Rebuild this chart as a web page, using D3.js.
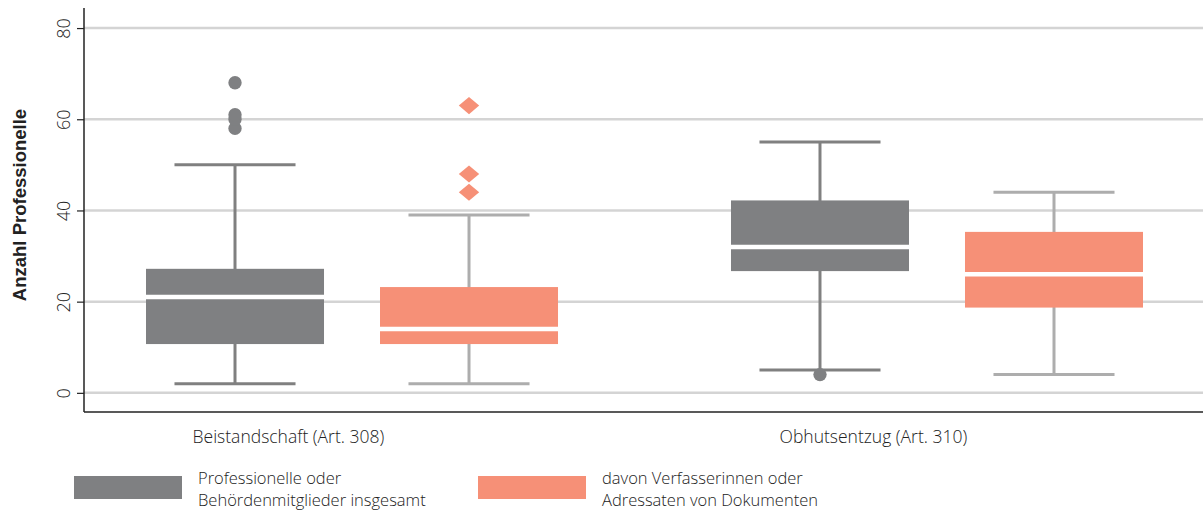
<!DOCTYPE html>
<html>
<head>
<meta charset="utf-8">
<script src="https://cdn.jsdelivr.net/npm/d3@7"></script>
<style>
  body { margin: 0; background: #fff; }
  svg text { font-family: "Open Sans", "Liberation Sans", sans-serif; fill: #222; }
</style>
</head>
<body>
<div id="holder"></div>
<script>
const categories = ["Beistandschaft (Art. 308)", "Obhutsentzug (Art. 310)"];
const seriesNames = ["Professionelle oder\nBehördenmitglieder insgesamt", "davon Verfasserinnen oder\nAdressaten von Dokumenten"];
// [lowWhisker, q1, median, q3, highWhisker] per category
const professionelle = [[2, 10.7, 21, 27.2, 50], [5, 26.7, 32, 42.2, 55]];
const verfasser = [[2, 10.7, 14, 23.2, 39], [4, 18.7, 26, 35.3, 44]];
const outliersProf = [[58, 60, 61, 68], [4]];
const outliersVerf = [[44, 48, 63], []];
const yTicks = [0, 20, 40, 60, 80];

const w = 1203, h = 513;
const colors = ["#7f8082", "#f69077"];
const whiskerColors = ["#808080", "#adadad"];

const svg = d3.select('#holder').append('svg').attr('width', w).attr('height', h);

const y = d3.scaleLinear().domain([-4.2, 84.4]).range([412, 8]);
const x = d3.scaleBand().domain(categories).range([146, 1143]).paddingInner(0.2957);
const xs = d3.scaleBand().domain([0, 1]).range([0, x.bandwidth()]).paddingInner(0.2393);

// grid
svg.append('g').selectAll('line').data(yTicks).join('line')
    .attr('x1', 84).attr('x2', w)
    .attr('y1', d => y(d)).attr('y2', d => y(d))
    .attr('stroke', '#d4d4d4').attr('stroke-width', 2.5);

const yAxis = svg.append('g').attr('transform', 'translate(84,0)')
    .call(d3.axisLeft(y).tickValues(yTicks).tickSize(7).tickSizeOuter(0));
yAxis.select('.domain').attr('stroke', '#222').attr('stroke-width', 1.5).attr('d', `M0,8V${412}`);
yAxis.selectAll('.tick line').attr('stroke', '#222').attr('stroke-width', 1.2);
yAxis.selectAll('.tick text')
    .attr('font-size', 18).attr('font-weight', 300).attr('fill', '#222')
    .style('text-anchor', 'middle')
    .attr('transform', 'rotate(-90)').attr('x', 0).attr('y', -14).attr('dy', '0');

// x axis baseline
svg.append('line').attr('x1', 84).attr('x2', w).attr('y1', 412).attr('y2', 412)
    .attr('stroke', '#222').attr('stroke-width', 1.5);

svg.append('text').text('Anzahl Professionelle')
    .attr('transform', 'rotate(-90)')
    .attr('x', -205).attr('y', 26)
    .attr('text-anchor', 'middle').attr('font-size', 18.5).attr('font-weight', 'bold')
    .style('font-family', '"Liberation Sans", Arial, sans-serif');

const series = [professionelle, verfasser];
const outliers = [outliersProf, outliersVerf];

categories.forEach((cat, ci) => {
    series.forEach((s, si) => {
        const [lo, q1, med, q3, hi] = s[ci];
        const x0 = x(cat) + xs(si), bw = xs.bandwidth(), cx = x0 + bw / 2;
        const capW = bw * 0.68;
        const g = svg.append('g');
        g.append('line').attr('x1', cx).attr('x2', cx).attr('y1', y(hi)).attr('y2', y(lo))
            .attr('stroke', whiskerColors[si]).attr('stroke-width', 3);
        g.selectAll('.cap').data([lo, hi]).join('line')
            .attr('x1', cx - capW / 2).attr('x2', cx + capW / 2)
            .attr('y1', d => y(d)).attr('y2', d => y(d))
            .attr('stroke', whiskerColors[si]).attr('stroke-width', 3);
        g.append('rect').attr('x', x0).attr('width', bw)
            .attr('y', y(q3)).attr('height', y(q1) - y(q3)).attr('fill', colors[si]);
        g.append('line').attr('x1', x0).attr('x2', x0 + bw).attr('y1', y(med)).attr('y2', y(med))
            .attr('stroke', '#fff').attr('stroke-width', 4.5);
        const sym = d3.symbol().type(si === 0 ? d3.symbolCircle : d3.symbolDiamond).size(si === 0 ? 140 : 150);
        g.selectAll('.out').data(outliers[si][ci]).join('path')
            .attr('d', sym)
            .attr('transform', d => si === 0 ? `translate(${cx},${y(d)})` : `translate(${cx},${y(d)}) scale(1.55,0.75)`)
            .attr('fill', colors[si]);
    });
    svg.append('text').text(cat)
        .attr('x', x(cat) + xs(0) + xs.bandwidth() * 0.8).attr('y', 443)
        .attr('text-anchor', 'middle').attr('font-size', 17.5).attr('font-weight', 300);
});

// legend
const legendX = [74, 478];
seriesNames.forEach((name, i) => {
    const g = svg.append('g').attr('transform', `translate(${legendX[i]},476)`);
    g.append('rect').attr('width', 108).attr('height', 23).attr('fill', colors[i]);
    name.split('\n').forEach((line, k) => {
        g.append('text').attr('x', 124).attr('y', 8 + k * 22)
            .attr('font-size', 16.5).attr('font-weight', 300).text(line);
    });
});
</script>
</body>
</html>
